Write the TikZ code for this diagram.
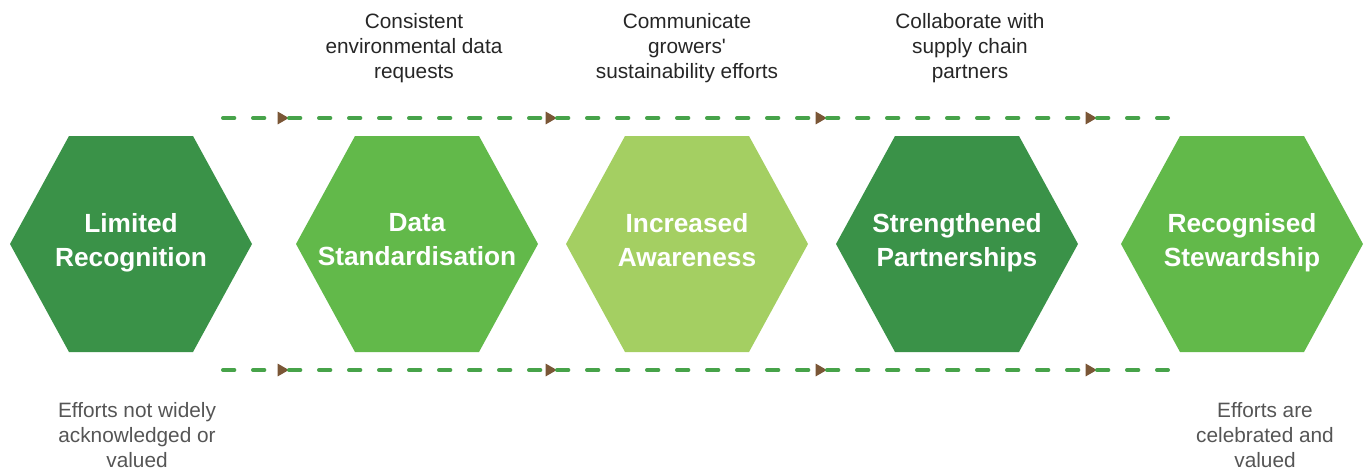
\documentclass[tikz,border=0pt]{standalone}
\usepackage{fontspec}
\setmainfont{Liberation Sans}[Ligatures=TeXOff]
\usetikzlibrary{arrows.meta}

\definecolor{darkleaf}{HTML}{3A9248}
\definecolor{midleaf}{HTML}{62B94A}
\definecolor{paleleaf}{HTML}{A4CF62}
\definecolor{dashleaf}{HTML}{47A34A}
\definecolor{tipbrown}{HTML}{7A5636}
\definecolor{notegray}{HTML}{555555}

\tikzset{
	hexlabel/.style={text=white,align=center,anchor=north,font=\bfseries\fontsize{19.7}{25.5}\selectfont},
	toplabel/.style={text=black!85,align=center,font=\fontsize{15.6}{18.8}\selectfont},
	notelabel/.style={text=notegray,align=center,font=\fontsize{15.6}{18.8}\selectfont},
	flowline/.style={draw=dashleaf,line width=3pt,line cap=round,dash pattern=on 8.5pt off 14pt},
	flowtip/.style={-{Triangle[length=8.5pt,width=9pt,color=tipbrown,fill=tipbrown]}}
}

\begin{document}
\begin{tikzpicture}[x=0.75pt,y=-0.75pt]
	\useasboundingbox (0,0) rectangle (1370,471);
	% hexagons
	\foreach \cx/\col/\nm/\txt in {131/darkleaf/limited/{Limited\\Recognition},
		417/midleaf/standard/{Data\\Standardisation},
		687/paleleaf/aware/{Increased\\Awareness},
		957/darkleaf/partner/{Strengthened\\Partnerships},
		1242/midleaf/steward/{Recognised\\Stewardship}}
	{
		\fill[\col] (\cx-121,244) -- ++(59,-108) -- ++(124,0) -- ++(59,108) -- ++(-59,108) -- ++(-124,0) -- cycle;
		\node[hexlabel] (\nm) at (\cx,209) {\txt};
	}
	% dashed flow lines
	\foreach \row/\y in {t/118,b/370} {
		\coordinate (\row0) at (223,\y);
		\coordinate (\row1) at (289,\y);
		\coordinate (\row2) at (557,\y);
		\coordinate (\row3) at (827,\y);
		\coordinate (\row4) at (1097,\y);
		\coordinate (\row5) at (1168,\y);
		\draw[flowline,flowtip] (\row0) -- (\row1);
		\draw[flowline,flowtip] (\row1) -- (\row2);
		\draw[flowline,flowtip] (\row2) -- (\row3);
		\draw[flowline,flowtip] (\row3) -- (\row4);
		\draw[flowline] (\row4) -- (\row5);
	}
	% labels
	\node[toplabel] (req) at (414,48) {Consistent\\environmental data\\requests};
	\node[toplabel] (comm) at (687,48) {Communicate\\growers'\\sustainability efforts};
	\node[toplabel] (collab) at (970,48) {Collaborate with\\supply chain\\partners};
	\node[notelabel] (before) at (137,435) {Efforts not widely\\acknowledged or\\valued};
	\node[notelabel] (after) at (1265,435) {Efforts are\\celebrated and\\valued};
\end{tikzpicture}
\end{document}
